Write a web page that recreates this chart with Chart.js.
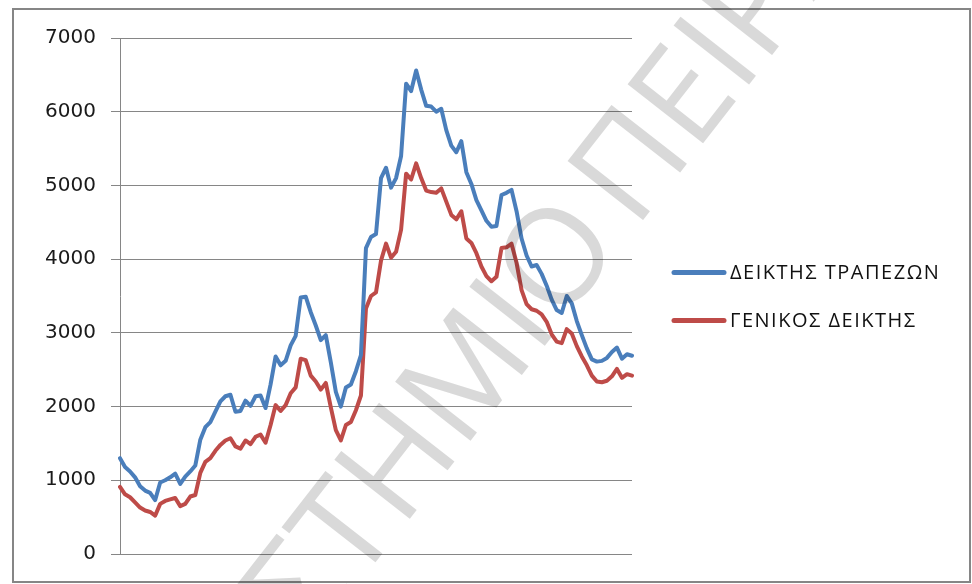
<!DOCTYPE html>
<html>
<head>
<meta charset="utf-8">
<script src="https://cdn.jsdelivr.net/npm/chart.js@4.4.1/dist/chart.umd.min.js"></script>
<style>
    html, body { margin: 0; padding: 0; background: #ffffff; }
    #wrap { position: relative; width: 972px; height: 584px; }
</style>
</head>
<body>
<div id="wrap"><canvas id="chart" width="972" height="584"></canvas></div>
<script>
// weekly observations, oldest first
const weeks = Array.from({ length: 103 }, (_, i) => 'W' + (i + 1));

const bankIndex = [
    1300, 1180, 1120, 1040, 920, 860, 830, 730, 970, 1000,
    1040, 1090, 950, 1050, 1120, 1200, 1550, 1720, 1790, 1930,
    2070, 2140, 2160, 1930, 1940, 2080, 2010, 2140, 2150, 1980,
    2300, 2680, 2560, 2620, 2830, 2960, 3480, 3490, 3280, 3100,
    2900, 2970, 2600, 2200, 2000, 2260, 2300, 2480, 2700, 4150,
    4300, 4340, 5100, 5240, 4970, 5100, 5400, 6380, 6280, 6560,
    6300, 6080, 6070, 6000, 6040, 5750, 5540, 5450, 5600, 5180,
    5020, 4800, 4660, 4520, 4440, 4450, 4870, 4900, 4940, 4650,
    4280, 4050, 3900, 3920, 3800, 3640, 3450, 3310, 3270, 3500,
    3400, 3160, 2970, 2790, 2640, 2610, 2620, 2660, 2740, 2800,
    2650, 2710, 2690
];

const generalIndex = [
    910, 810, 770, 700, 630, 590, 570, 520, 680, 720,
    740, 760, 650, 680, 780, 800, 1100, 1250, 1300, 1400,
    1480, 1540, 1570, 1460, 1430, 1540, 1490, 1590, 1620, 1510,
    1750, 2020, 1940, 2020, 2180, 2260, 2650, 2630, 2420, 2340,
    2230, 2320, 1990, 1680, 1540, 1750, 1790, 1950, 2150, 3330,
    3500, 3550, 3980, 4210, 4020, 4100, 4400, 5160, 5080, 5300,
    5100, 4930, 4910, 4900, 4960, 4780, 4600, 4540, 4650, 4280,
    4220, 4080, 3900, 3770, 3700, 3760, 4150, 4160, 4210, 3950,
    3580, 3390, 3320, 3300, 3250, 3150, 2980, 2880, 2860, 3050,
    2990, 2820, 2680, 2560, 2420, 2340, 2330, 2350, 2410, 2510,
    2390, 2440, 2420
];

const seriesNames = ['ΔΕΙΚΤΗΣ ΤΡΑΠΕΖΩΝ', 'ΓΕΝΙΚΟΣ ΔΕΙΚΤΗΣ'];
const seriesColors = ['#4a7ebb', '#be4b48'];
const yMax = 7000;
const yStep = 1000;
const watermark = ['ΠΑΝΕΠΙΣΤΗΜΙΟ', 'ΠΕΙΡΑΙΩΣ'];

const GRID = '#868686';

// outer frame around the whole chart
const framePlugin = {
    id: 'frame',
    beforeDraw(chart) {
        const ctx = chart.ctx;
        ctx.save();
        ctx.fillStyle = '#ffffff';
        ctx.fillRect(0, 0, chart.width, chart.height);
        ctx.strokeStyle = GRID;
        ctx.lineWidth = 2;
        ctx.strokeRect(13, 9, 957, 573);
        ctx.restore();
    }
};

// legend on the right: short line sample + label
const sideLegend = {
    id: 'sideLegend',
    afterDraw(chart) {
        const ctx = chart.ctx;
        const rows = [272.5, 320.5];
        ctx.save();
        chart.data.datasets.forEach((ds, i) => {
            const y = rows[i];
            ctx.strokeStyle = ds.borderColor;
            ctx.lineWidth = 5;
            ctx.lineCap = 'round';
            ctx.beginPath();
            ctx.moveTo(674, y);
            ctx.lineTo(724, y);
            ctx.stroke();
            ctx.fillStyle = '#111111';
            ctx.font = '20px "Open Sans"';
            ctx.letterSpacing = '1.5px';
            ctx.textBaseline = 'middle';
            ctx.textAlign = 'left';
            ctx.fillText(ds.label, 730, y + 1);
        });
        ctx.restore();
    }
};

// diagonal watermark lettering laid over the plot
const watermarkPlugin = {
    id: 'watermark',
    afterDraw(chart) {
        const ctx = chart.ctx;
        ctx.save();
        ctx.globalCompositeOperation = 'multiply';
        ctx.fillStyle = '#d9d9d9';
        ctx.font = '134px "Open Sans"';
        ctx.translate(554, 256);
        ctx.rotate(-52 * Math.PI / 180);
        const oHalf = ctx.measureText('Ο').width / 2;
        const capHalf = 48;
        ctx.textBaseline = 'alphabetic';
        ctx.textAlign = 'right';
        ctx.fillText(watermark[0], oHalf, capHalf);
        ctx.textAlign = 'left';
        ctx.fillText(watermark[1], oHalf + 18, capHalf);
        ctx.restore();
    }
};

const ctx = document.getElementById('chart').getContext('2d');

new Chart(ctx, {
    type: 'line',
    data: {
        labels: weeks,
        datasets: [
            {
                label: seriesNames[0],
                data: bankIndex,
                borderColor: seriesColors[0],
                backgroundColor: seriesColors[0],
                borderWidth: 4,
                pointRadius: 0,
                tension: 0,
                borderJoinStyle: 'round',
                borderCapStyle: 'round'
            },
            {
                label: seriesNames[1],
                data: generalIndex,
                borderColor: seriesColors[1],
                backgroundColor: seriesColors[1],
                borderWidth: 4,
                pointRadius: 0,
                tension: 0,
                borderJoinStyle: 'round',
                borderCapStyle: 'round'
            }
        ]
    },
    options: {
        responsive: false,
        animation: false,
        devicePixelRatio: 1,
        layout: {
            padding: { left: 0, right: 340, top: 38, bottom: 30 }
        },
        plugins: {
            legend: { display: false },
            tooltip: { enabled: false }
        },
        scales: {
            x: {
                display: false
            },
            y: {
                min: 0,
                max: yMax,
                afterFit(scale) {
                    scale.width = 120;
                },
                ticks: {
                    stepSize: yStep,
                    padding: 15,
                    color: '#1a1a1a',
                    font: { family: '"DejaVu Sans"', size: 20 },
                    callback: (value) => String(value)
                },
                grid: {
                    color: GRID,
                    lineWidth: 1,
                    tickLength: 9
                },
                border: {
                    color: GRID,
                    width: 1
                }
            }
        }
    },
    plugins: [framePlugin, sideLegend, watermarkPlugin]
});
</script>
</body>
</html>
